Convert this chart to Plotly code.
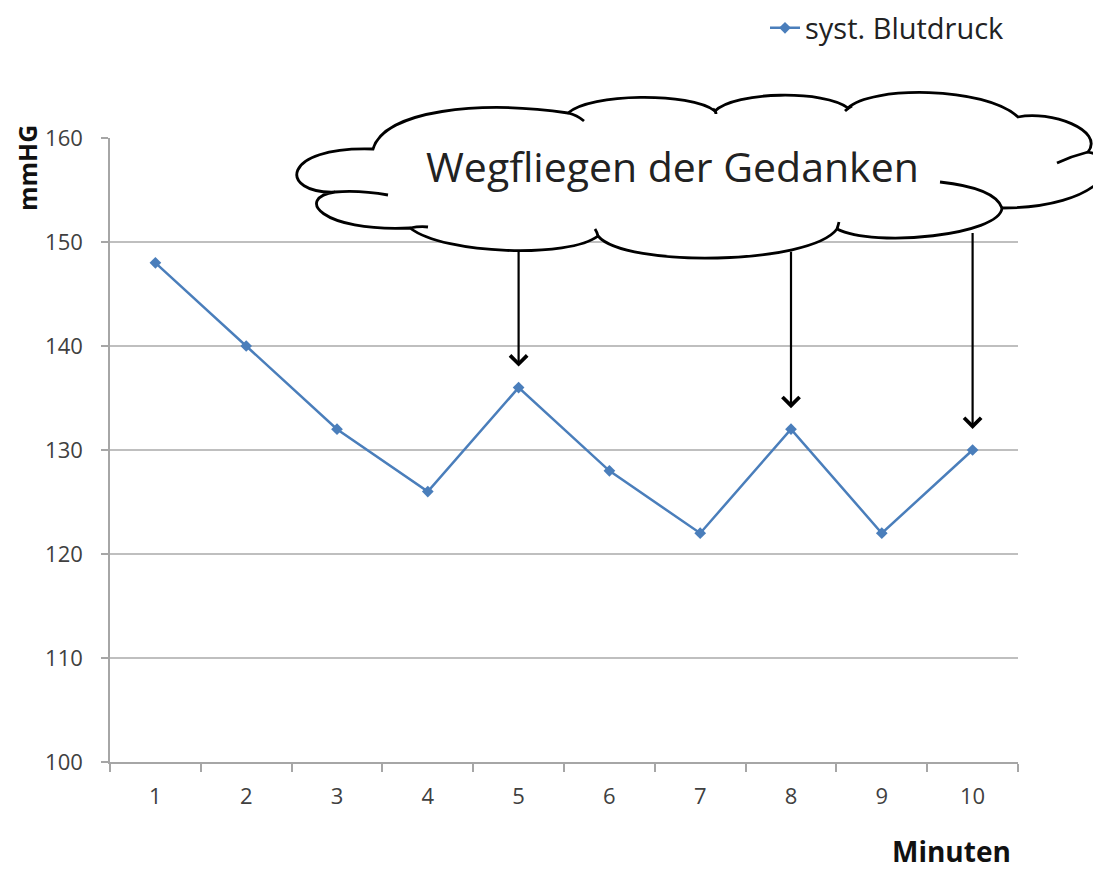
import plotly.graph_objects as go

# ---- data ----
minutes = ["1", "2", "3", "4", "5", "6", "7", "8", "9", "10"]
syst_bp = [148, 140, 132, 126, 136, 128, 122, 132, 122, 130]
series_name = "syst. Blutdruck"
y_ticks = [100, 110, 120, 130, 140, 150, 160]
arrow_targets = ["5", "8", "10"]
arrow_starts = [149.2, 149.2, 151.0]
cloud_text = "Wegfliegen der Gedanken"
y_title = "mmHG"
x_title = "Minuten"

# ---- layout geometry (window pixels; page body has an 8px margin) ----
OFF = 8
FW, FH = 1101 - OFF, 871 - OFF
PLOT_L, PLOT_R, PLOT_T, PLOT_B = 110, 1018, 138, 762
ML = PLOT_L - OFF
MT = PLOT_T - OFF
MR = FW - (PLOT_R - OFF)
MB = FH - (PLOT_B - OFF)
PW = PLOT_R - PLOT_L
PH = PLOT_B - PLOT_T


def pp(px, py):
    return (px - PLOT_L) / PW, (PLOT_B - py) / PH


def fmt(p):
    x, y = pp(*p)
    return f"{x:.5f},{y:.5f}"


# cloud lobes: start, ctrl1, ctrl2, end (window pixels)
lobes = [
    ((335, 192), (279, 194), (279, 146), (373, 149)),
    ((373, 149), (385, 110), (480, 100), (568, 113)),
    ((568, 113), (590, 93), (690, 92), (715, 111)),
    ((715, 111), (735, 91), (825, 90), (848, 108)),
    ((848, 108), (870, 86), (985, 86), (1018, 117)),
    ((1018, 117), (1050, 110), (1105, 130), (1088, 152)),
    ((1088, 152), (1130, 160), (1100, 208), (1002, 208)),
    ((1002, 208), (1000, 235), (875, 248), (837, 229)),
    ((837, 229), (810, 265), (625, 268), (598, 236)),
    ((598, 236), (570, 258), (445, 255), (410, 228)),
    ((410, 228), (320, 232), (295, 198), (335, 192)),
]
tails = [
    ((335, 192), (360, 190), (388, 195)),
    ((410, 228), (420, 226), (428, 227)),
    ((568, 113), (577, 115), (584, 121)),
    ((713, 109), (716, 111), (716, 114)),
    ((852, 106), (848, 108), (845, 111)),
    ((1088, 152), (1072, 156), (1057, 163)),
    ((1002, 208), (995, 188), (940, 182)),
    ((837, 229), (838, 226), (839, 222)),
    ((598, 236), (597, 232), (595, 229)),
]


def cloud_path():
    parts = ["M " + fmt(lobes[0][0])]
    for s, c1, c2, e in lobes:
        parts.append(f"C {fmt(c1)} {fmt(c2)} {fmt(e)}")
    parts.append("Z")
    return " ".join(parts)


fig = go.Figure()
fig.add_trace(go.Scatter(
    x=minutes, y=syst_bp, mode="lines+markers", name=series_name,
    line=dict(color="#4a7ebb", width=2.5),
    marker=dict(symbol="diamond", size=9, color="#4a7ebb"),
))

shapes = [dict(type="path", xref="paper", yref="paper", path=cloud_path(),
               fillcolor="white", line=dict(color="black", width=2.8),
               layer="above")]
for a, b, c in tails:
    shapes.append(dict(type="path", xref="paper", yref="paper",
                       path=f"M {fmt(a)} Q {fmt(b)} {fmt(c)}",
                       line=dict(color="black", width=2.8), layer="above"))

annotations = []
for cat, start in zip(arrow_targets, arrow_starts):
    idx = minutes.index(cat)
    annotations.append(dict(
        x=idx, y=syst_bp[idx], xref="x", yref="y",
        ax=idx, ay=start, axref="x", ayref="y",
        showarrow=True, arrowhead=4, arrowsize=1.5, arrowwidth=2.2,
        arrowcolor="black", standoff=21, text=""))

cx, cy = pp(672, 166)
annotations.append(dict(x=cx, y=cy, xref="paper", yref="paper",
                        xanchor="center", yanchor="middle",
                        text=cloud_text, showarrow=False,
                        font=dict(family="Open Sans", size=41, color="#222222")))
tx, ty = pp(27, 168)
annotations.append(dict(x=tx, y=ty, xref="paper", yref="paper",
                        xanchor="center", yanchor="middle",
                        text=f"<b>{y_title}</b>", showarrow=False, textangle=-90,
                        font=dict(family="Open Sans", size=25, color="#111111")))
mx_, my_ = pp(951, 851)
annotations.append(dict(x=mx_, y=my_, xref="paper", yref="paper",
                        xanchor="center", yanchor="middle",
                        text=f"<b>{x_title}</b>", showarrow=False,
                        font=dict(family="Open Sans", size=28, color="#111111")))

lx, ly = pp(1010, 28)
fig.update_layout(
    width=FW, height=FH,
    margin=dict(l=ML, r=MR, t=MT, b=MB, autoexpand=False),
    paper_bgcolor="white", plot_bgcolor="white",
    showlegend=True,
    legend=dict(x=lx, y=ly, xanchor="right", yanchor="middle",
                font=dict(family="Open Sans", size=29, color="#222222"),
                bgcolor="rgba(0,0,0,0)", itemwidth=30),
    shapes=shapes,
    annotations=annotations,
    xaxis=dict(type="category", tickson="boundaries", ticks="outside",
               ticklen=8, tickcolor="#a6a6a6", tickwidth=1.5,
               showline=True, linecolor="#a6a6a6", linewidth=1.5,
               showgrid=False, range=[-0.5, 9.5],
               tickfont=dict(family="Open Sans", size=22, color="#404040"),
               ticklabelstandoff=14),
    yaxis=dict(range=[100, 160], tickvals=y_ticks, ticks="outside",
               ticklen=7, tickcolor="#a6a6a6", tickwidth=1.5,
               showline=True, linecolor="#a6a6a6", linewidth=1.5,
               showgrid=True, gridcolor="#bfbfbf", gridwidth=1.5,
               zeroline=False,
               tickfont=dict(family="Open Sans", size=22, color="#404040"),
               ticklabelstandoff=14),
)

fig.write_html("out.html")
